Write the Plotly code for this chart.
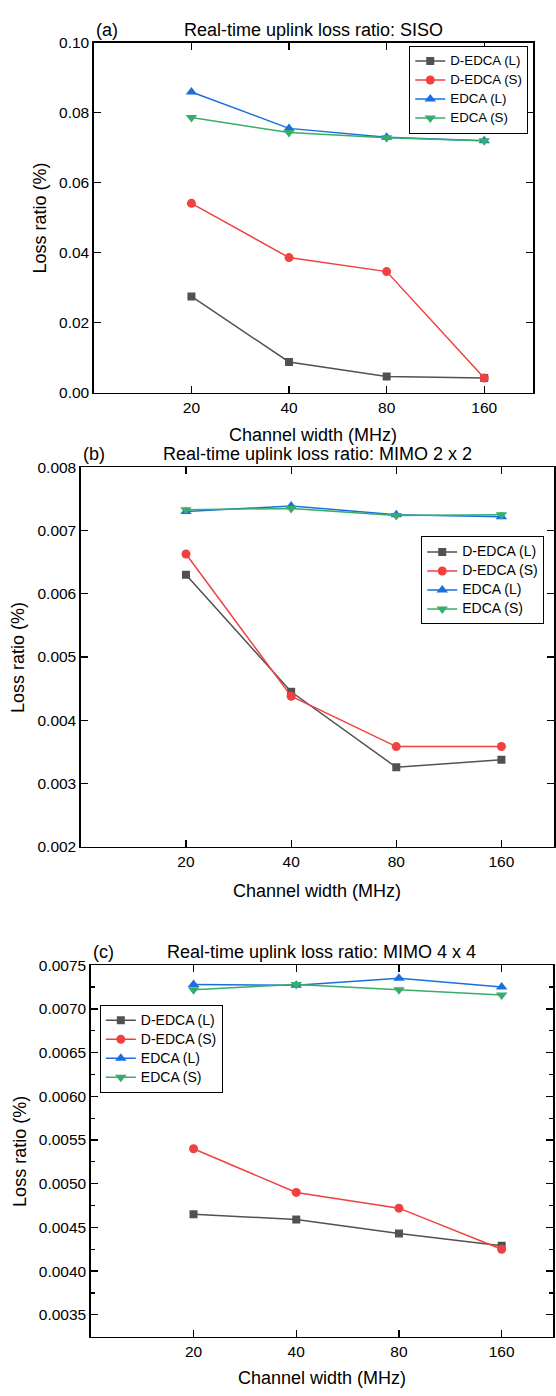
import plotly.graph_objects as go

W, H = 556, 1396
FONT = "Liberation Sans, Arial, sans-serif"

widths = ["20", "40", "80", "160"]
series_names = ["D-EDCA (L)", "D-EDCA (S)", "EDCA (L)", "EDCA (S)"]

# Panel (a): SISO
siso_dedca_l = [0.0275, 0.0088, 0.00465, 0.0042]
siso_dedca_s = [0.0541, 0.0386, 0.0346, 0.0042]
siso_edca_l = [0.0859, 0.0755, 0.0730, 0.0720]
siso_edca_s = [0.0786, 0.0743, 0.0728, 0.0720]

# Panel (b): MIMO 2x2
m2_dedca_l = [0.00630, 0.00445, 0.003255, 0.003375]
m2_dedca_s = [0.00663, 0.00438, 0.003583, 0.003585]
m2_edca_l = [0.00730, 0.00739, 0.00725, 0.00722]
m2_edca_s = [0.00733, 0.00735, 0.00724, 0.00725]

# Panel (c): MIMO 4x4
m4_dedca_l = [0.00465, 0.00459, 0.00443, 0.00429]
m4_dedca_s = [0.00540, 0.00490, 0.00472, 0.00425]
m4_edca_l = [0.00728, 0.00727, 0.00735, 0.00725]
m4_edca_s = [0.00722, 0.00728, 0.00722, 0.00716]

colors = ["#515151", "#F14040", "#1A6FDF", "#37AD6B"]
symbols = ["square", "circle", "triangle-up", "triangle-down"]
msizes = [8, 9, 10, 10]

panels = [
    dict(data=[siso_dedca_l, siso_dedca_s, siso_edca_l, siso_edca_s],
         x=(94, 534), y=(34, 388.5), yrange=[0, 0.1],
         yticks=[0, 0.02, 0.04, 0.06, 0.08, 0.10], fmt=".2f", minor=None,
         title="Real-time uplink loss ratio: SISO", tag="(a)", tag_y=21,
         ytitle_x=40, xtitle_y=431, legend=dict(x=410, y=37, fs=13.3)),
    dict(data=[m2_dedca_l, m2_dedca_s, m2_edca_l, m2_edca_s],
         x=(81, 555), y=(464, 848), yrange=[0.002, 0.008],
         yticks=[0.002, 0.003, 0.004, 0.005, 0.006, 0.007, 0.008], fmt=".3f", minor=None,
         title="Real-time uplink loss ratio: MIMO 2 x 2", tag="(b)", tag_y=450,
         ytitle_x=18, xtitle_y=893, legend=dict(x=422, y=534, fs=14)),
    dict(data=[m4_dedca_l, m4_dedca_s, m4_edca_l, m4_edca_s],
         x=(91, 554), y=(968, 1344), yrange=[0.00325, 0.0075],
         yticks=[0.0035, 0.0040, 0.0045, 0.0050, 0.0055, 0.0060, 0.0065, 0.0070, 0.0075],
         fmt=".4f", minor=0.00025,
         title="Real-time uplink loss ratio: MIMO 4 x 4", tag="(c)", tag_y=955,
         ytitle_x=20, xtitle_y=1386, legend=dict(x=100, y=1008, fs=14)),
]

fig = go.Figure()
annotations = []
for i, p in enumerate(panels):
    n = "" if i == 0 else str(i + 1)
    leg = "legend" if i == 0 else f"legend{i + 1}"
    fs = p["legend"]["fs"]
    for k in range(4):
        fig.add_trace(go.Scatter(
            x=widths, y=p["data"][k],
            name=f'<span style="font-size:{fs}px">{series_names[k]}</span>',
            mode="lines+markers",
            line=dict(color=colors[k], width=1.5),
            marker=dict(symbol=symbols[k], size=msizes[k], color=colors[k]),
            xaxis="x" + n, yaxis="y" + n, legend=leg, showlegend=True))
    xd = [p["x"][0] / W, p["x"][1] / W]
    yd = [1 - p["y"][1] / H, 1 - p["y"][0] / H]
    common = dict(showline=True, linecolor="black", linewidth=1.5, mirror="ticks",
                  ticks="inside", ticklen=7, tickwidth=1.2, tickcolor="black",
                  showgrid=False, zeroline=False,
                  tickfont=dict(family=FONT, size=15.5, color="black"))
    xa = dict(domain=xd, type="category", range=[-1, 3.5],
              anchor="y" + n, **common)
    ya = dict(domain=yd, range=p["yrange"], tickvals=p["yticks"], tickformat=p["fmt"],
              anchor="x" + n, **common)
    if p["minor"]:
        ya["minor"] = dict(dtick=p["minor"], tick0=0.0035, ticks="inside", ticklen=4,
                           tickcolor="black", tickwidth=1.2, showgrid=False)
    fig.update_layout(**{"xaxis" + n: xa, "yaxis" + n: ya})
    fig.update_layout(**{leg: dict(
        x=p["legend"]["x"] / W, y=1 - p["legend"]["y"] / H, xanchor="left", yanchor="top",
        bgcolor="white", bordercolor="black", borderwidth=1,
        font=dict(family=FONT, size=11, color="black"), tracegroupgap=0,
        itemwidth=30)})
    cx = (p["x"][0] + p["x"][1]) / 2
    annotations.append(dict(text=p["title"], x=cx / W, y=1 - p["tag_y"] / H,
                            xref="paper", yref="paper", xanchor="center", yanchor="middle",
                            showarrow=False, font=dict(family=FONT, size=18, color="black")))
    annotations.append(dict(text=p["tag"], x=p["x"][0] / W, y=1 - p["tag_y"] / H,
                            xref="paper", yref="paper", xanchor="left", yanchor="middle",
                            showarrow=False, font=dict(family=FONT, size=18, color="black")))
    annotations.append(dict(text="Channel width (MHz)", x=cx / W, y=1 - p["xtitle_y"] / H,
                            xref="paper", yref="paper", xanchor="center", yanchor="middle",
                            showarrow=False, font=dict(family=FONT, size=18, color="black")))
    ymid = (p["y"][0] + p["y"][1]) / 2
    annotations.append(dict(text="Loss ratio (%)", x=p["ytitle_x"] / W, y=1 - ymid / H,
                            xref="paper", yref="paper", xanchor="center", yanchor="middle",
                            textangle=-90, showarrow=False,
                            font=dict(family=FONT, size=18, color="black")))

fig.update_layout(width=W, height=H, margin=dict(l=0, r=0, t=0, b=0),
                  plot_bgcolor="white", paper_bgcolor="white", hovermode=False,
                  annotations=annotations, font=dict(family=FONT, color="black"))

fig.write_html("out.html", config={"displayModeBar": False, "staticPlot": True},
               post_script="document.body.style.margin='0';document.body.style.overflow='hidden';")
